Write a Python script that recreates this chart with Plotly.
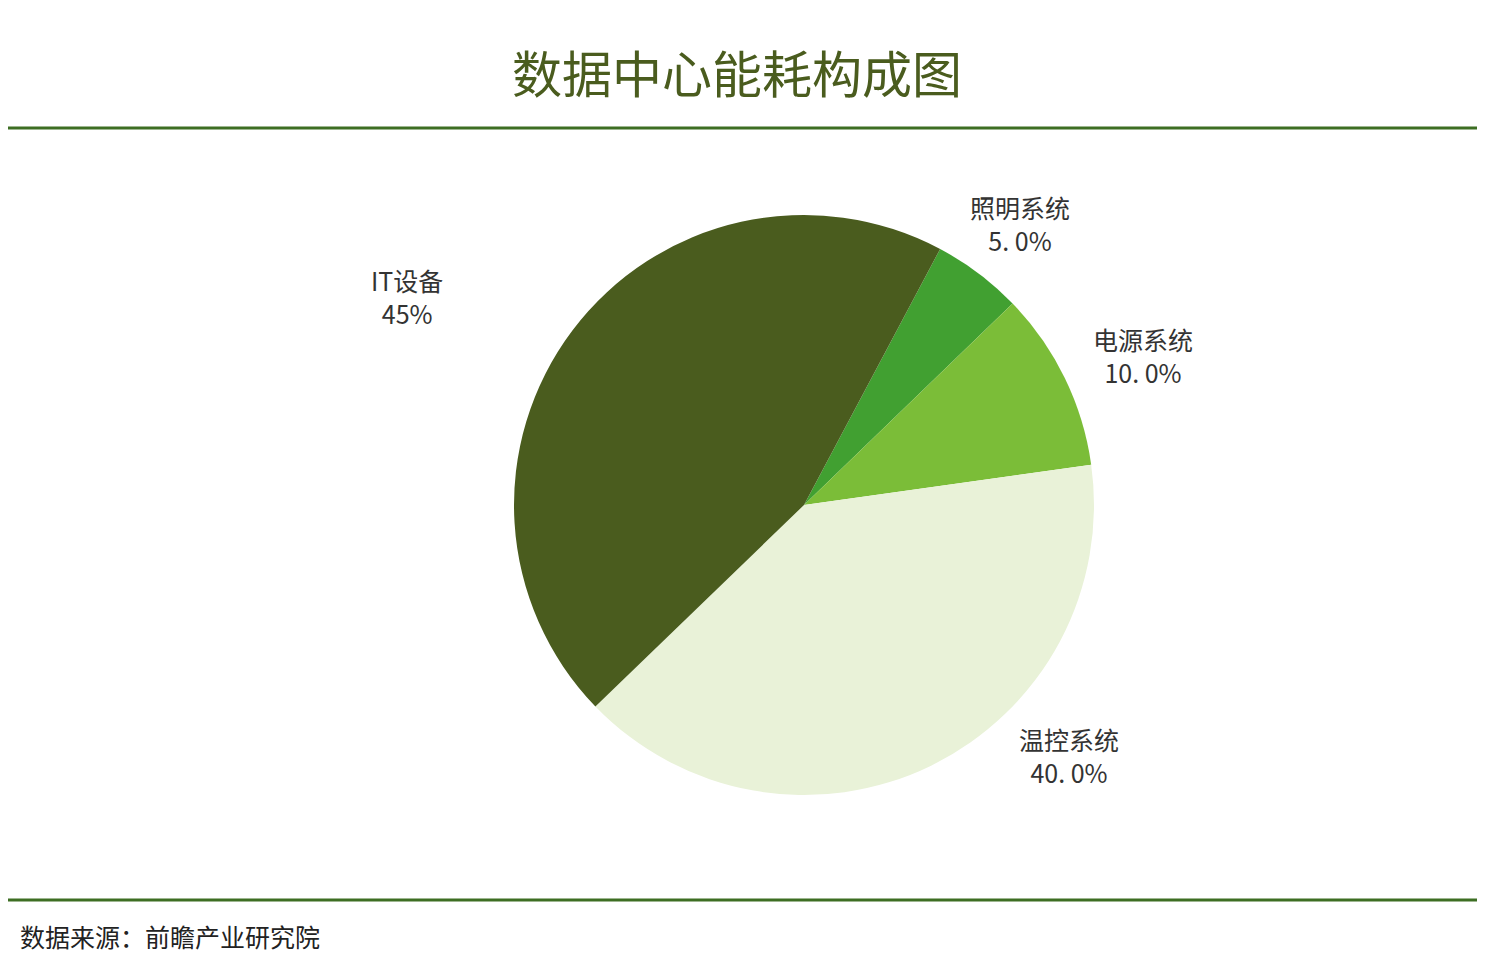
import plotly.graph_objects as go

W, H = 1485, 973
OX, OY = 8, 7  # page body margin offset

labels = ['照明系统', '电源系统', '温控系统', 'IT设备']
values = [5, 10, 40, 45]
label_text = ['照明系统<br>5. 0%', '电源系统<br>10. 0%', '温控系统<br>40. 0%', 'IT设备<br>45%']
colors = ['#41a031', '#7bbd38', '#e9f2d8', '#4a5c1e']
label_pos = [(1020, 222), (1143, 354), (1069, 754), (407, 295)]


def px(x):
    return (x - OX) / W


def py(y):
    return 1 - (y - OY) / H


fig = go.Figure(go.Pie(
    labels=labels, values=values, sort=False,
    direction='clockwise', rotation=28,
    marker=dict(colors=colors), textinfo='none', hoverinfo='label+percent',
    domain=dict(x=[px(514), px(1094)], y=[py(794), py(214)]),
    showlegend=False,
))

for txt, (x, y) in zip(label_text, label_pos):
    fig.add_annotation(x=px(x), y=py(y), xref='paper', yref='paper',
                       text=txt, showarrow=False, xanchor='center', yanchor='middle',
                       font=dict(size=25, color='#333333'))

fig.add_annotation(x=px(737), y=py(70), xref='paper', yref='paper',
                   text='数据中心能耗构成图', showarrow=False,
                   xanchor='center', yanchor='middle',
                   font=dict(size=50, color='#4a5c1e'))
fig.add_annotation(x=px(18), y=py(935), xref='paper', yref='paper',
                   text='数据来源：前瞻产业研究院', showarrow=False,
                   xanchor='left', yanchor='middle',
                   font=dict(size=25, color='#222222'))

for yy in [127, 899]:
    fig.add_shape(type='line', xref='paper', yref='paper',
                  x0=px(3), x1=px(1482), y0=py(yy), y1=py(yy),
                  line=dict(color='#3d6e23', width=3))

fig.update_layout(
    width=W, height=H, margin=dict(l=0, r=0, t=0, b=0),
    paper_bgcolor='white', plot_bgcolor='white',
    font=dict(family='Noto Sans CJK SC'),
)

fig.write_html('out.html')
